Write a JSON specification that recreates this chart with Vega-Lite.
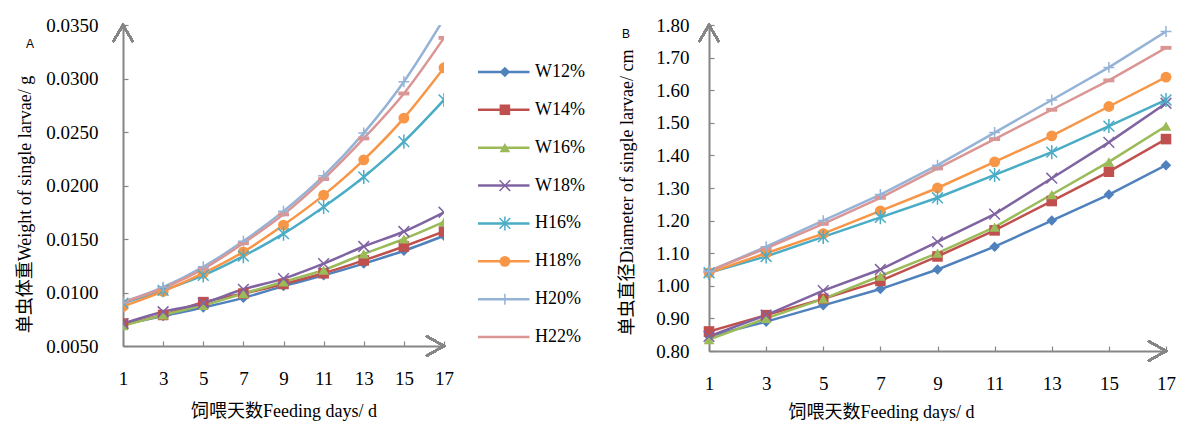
{
  "$schema": "https://vega.github.io/schema/vega-lite/v6.json",
  "padding": {"left": 16, "top": 16, "right": 0, "bottom": 0},
  "autosize": {"type": "pad"},
  "background": "white",
  "spacing": 22,
  "config": {
    "view": {"stroke": null},
    "axis": {
      "grid": false,
      "domainColor": "#868686",
      "domainWidth": 2,
      "tickColor": "#868686",
      "tickWidth": 1.2,
      "tickSize": -5,
      "labelOverlap": false,
      "labelFont": "Liberation Serif",
      "labelFontSize": 19,
      "labelColor": "#000000",
      "titleFont": "Liberation Serif, Noto Sans CJK SC",
      "titleFontSize": 18,
      "titleFontWeight": "normal",
      "titleColor": "#000000"
    }
  },
  "datasets": {
    "weight": [
      {"day": 1, "series": "W12%", "v": 0.0070}, {"day": 3, "series": "W12%", "v": 0.0078}, {"day": 5, "series": "W12%", "v": 0.0086}, {"day": 7, "series": "W12%", "v": 0.0095}, {"day": 9, "series": "W12%", "v": 0.0106}, {"day": 11, "series": "W12%", "v": 0.0116}, {"day": 13, "series": "W12%", "v": 0.0127}, {"day": 15, "series": "W12%", "v": 0.0139}, {"day": 17, "series": "W12%", "v": 0.0153},
      {"day": 1, "series": "W14%", "v": 0.0071}, {"day": 3, "series": "W14%", "v": 0.0079}, {"day": 5, "series": "W14%", "v": 0.0091}, {"day": 7, "series": "W14%", "v": 0.0099}, {"day": 9, "series": "W14%", "v": 0.0108}, {"day": 11, "series": "W14%", "v": 0.0118}, {"day": 13, "series": "W14%", "v": 0.0130}, {"day": 15, "series": "W14%", "v": 0.0143}, {"day": 17, "series": "W14%", "v": 0.0157},
      {"day": 1, "series": "W16%", "v": 0.0069}, {"day": 3, "series": "W16%", "v": 0.0079}, {"day": 5, "series": "W16%", "v": 0.0088}, {"day": 7, "series": "W16%", "v": 0.0099}, {"day": 9, "series": "W16%", "v": 0.0110}, {"day": 11, "series": "W16%", "v": 0.0121}, {"day": 13, "series": "W16%", "v": 0.0136}, {"day": 15, "series": "W16%", "v": 0.0150}, {"day": 17, "series": "W16%", "v": 0.0166},
      {"day": 1, "series": "W18%", "v": 0.0071}, {"day": 3, "series": "W18%", "v": 0.0082}, {"day": 5, "series": "W18%", "v": 0.0090}, {"day": 7, "series": "W18%", "v": 0.0103}, {"day": 9, "series": "W18%", "v": 0.0113}, {"day": 11, "series": "W18%", "v": 0.0127}, {"day": 13, "series": "W18%", "v": 0.0143}, {"day": 15, "series": "W18%", "v": 0.0157}, {"day": 17, "series": "W18%", "v": 0.0175},
      {"day": 1, "series": "H16%", "v": 0.0090}, {"day": 3, "series": "H16%", "v": 0.0102}, {"day": 5, "series": "H16%", "v": 0.0116}, {"day": 7, "series": "H16%", "v": 0.0134}, {"day": 9, "series": "H16%", "v": 0.0155}, {"day": 11, "series": "H16%", "v": 0.0180}, {"day": 13, "series": "H16%", "v": 0.0208}, {"day": 15, "series": "H16%", "v": 0.0241}, {"day": 17, "series": "H16%", "v": 0.0280},
      {"day": 1, "series": "H18%", "v": 0.0087}, {"day": 3, "series": "H18%", "v": 0.0101}, {"day": 5, "series": "H18%", "v": 0.0118}, {"day": 7, "series": "H18%", "v": 0.0138}, {"day": 9, "series": "H18%", "v": 0.0163}, {"day": 11, "series": "H18%", "v": 0.0191}, {"day": 13, "series": "H18%", "v": 0.0224}, {"day": 15, "series": "H18%", "v": 0.0263}, {"day": 17, "series": "H18%", "v": 0.0310},
      {"day": 1, "series": "H20%", "v": 0.0091}, {"day": 3, "series": "H20%", "v": 0.0105}, {"day": 5, "series": "H20%", "v": 0.0124}, {"day": 7, "series": "H20%", "v": 0.0148}, {"day": 9, "series": "H20%", "v": 0.0176}, {"day": 11, "series": "H20%", "v": 0.0209}, {"day": 13, "series": "H20%", "v": 0.0249}, {"day": 15, "series": "H20%", "v": 0.0297}, {"day": 17, "series": "H20%", "v": 0.0356},
      {"day": 1, "series": "H22%", "v": 0.0091}, {"day": 3, "series": "H22%", "v": 0.0104}, {"day": 5, "series": "H22%", "v": 0.0122}, {"day": 7, "series": "H22%", "v": 0.0146}, {"day": 9, "series": "H22%", "v": 0.0173}, {"day": 11, "series": "H22%", "v": 0.0206}, {"day": 13, "series": "H22%", "v": 0.0244}, {"day": 15, "series": "H22%", "v": 0.0286}, {"day": 17, "series": "H22%", "v": 0.0338}
    ],
    "diameter": [
      {"day": 1, "series": "W12%", "v": 0.845}, {"day": 3, "series": "W12%", "v": 0.89}, {"day": 5, "series": "W12%", "v": 0.94}, {"day": 7, "series": "W12%", "v": 0.99}, {"day": 9, "series": "W12%", "v": 1.05}, {"day": 11, "series": "W12%", "v": 1.12}, {"day": 13, "series": "W12%", "v": 1.20}, {"day": 15, "series": "W12%", "v": 1.28}, {"day": 17, "series": "W12%", "v": 1.37},
      {"day": 1, "series": "W14%", "v": 0.86}, {"day": 3, "series": "W14%", "v": 0.91}, {"day": 5, "series": "W14%", "v": 0.96}, {"day": 7, "series": "W14%", "v": 1.015}, {"day": 9, "series": "W14%", "v": 1.09}, {"day": 11, "series": "W14%", "v": 1.17}, {"day": 13, "series": "W14%", "v": 1.26}, {"day": 15, "series": "W14%", "v": 1.35}, {"day": 17, "series": "W14%", "v": 1.45},
      {"day": 1, "series": "W16%", "v": 0.835}, {"day": 3, "series": "W16%", "v": 0.90}, {"day": 5, "series": "W16%", "v": 0.96}, {"day": 7, "series": "W16%", "v": 1.03}, {"day": 9, "series": "W16%", "v": 1.10}, {"day": 11, "series": "W16%", "v": 1.18}, {"day": 13, "series": "W16%", "v": 1.28}, {"day": 15, "series": "W16%", "v": 1.38}, {"day": 17, "series": "W16%", "v": 1.49},
      {"day": 1, "series": "W18%", "v": 0.845}, {"day": 3, "series": "W18%", "v": 0.91}, {"day": 5, "series": "W18%", "v": 0.985}, {"day": 7, "series": "W18%", "v": 1.05}, {"day": 9, "series": "W18%", "v": 1.135}, {"day": 11, "series": "W18%", "v": 1.22}, {"day": 13, "series": "W18%", "v": 1.33}, {"day": 15, "series": "W18%", "v": 1.44}, {"day": 17, "series": "W18%", "v": 1.56},
      {"day": 1, "series": "H16%", "v": 1.04}, {"day": 3, "series": "H16%", "v": 1.09}, {"day": 5, "series": "H16%", "v": 1.15}, {"day": 7, "series": "H16%", "v": 1.21}, {"day": 9, "series": "H16%", "v": 1.27}, {"day": 11, "series": "H16%", "v": 1.34}, {"day": 13, "series": "H16%", "v": 1.41}, {"day": 15, "series": "H16%", "v": 1.49}, {"day": 17, "series": "H16%", "v": 1.57},
      {"day": 1, "series": "H18%", "v": 1.04}, {"day": 3, "series": "H18%", "v": 1.10}, {"day": 5, "series": "H18%", "v": 1.16}, {"day": 7, "series": "H18%", "v": 1.23}, {"day": 9, "series": "H18%", "v": 1.30}, {"day": 11, "series": "H18%", "v": 1.38}, {"day": 13, "series": "H18%", "v": 1.46}, {"day": 15, "series": "H18%", "v": 1.55}, {"day": 17, "series": "H18%", "v": 1.64},
      {"day": 1, "series": "H20%", "v": 1.045}, {"day": 3, "series": "H20%", "v": 1.12}, {"day": 5, "series": "H20%", "v": 1.20}, {"day": 7, "series": "H20%", "v": 1.28}, {"day": 9, "series": "H20%", "v": 1.37}, {"day": 11, "series": "H20%", "v": 1.47}, {"day": 13, "series": "H20%", "v": 1.57}, {"day": 15, "series": "H20%", "v": 1.67}, {"day": 17, "series": "H20%", "v": 1.78},
      {"day": 1, "series": "H22%", "v": 1.045}, {"day": 3, "series": "H22%", "v": 1.115}, {"day": 5, "series": "H22%", "v": 1.19}, {"day": 7, "series": "H22%", "v": 1.27}, {"day": 9, "series": "H22%", "v": 1.36}, {"day": 11, "series": "H22%", "v": 1.45}, {"day": 13, "series": "H22%", "v": 1.54}, {"day": 15, "series": "H22%", "v": 1.63}, {"day": 17, "series": "H22%", "v": 1.73}
    ],
    "legend": [
      {"series": "W12%"}, {"series": "W14%"}, {"series": "W16%"}, {"series": "W18%"},
      {"series": "H16%"}, {"series": "H18%"}, {"series": "H20%"}, {"series": "H22%"}
    ]
  },
  "hconcat": [
    {
      "width": 321,
      "height": 321,
      "data": {"name": "weight"},
      "title": {"text": "A", "anchor": "start", "frame": "group", "font": "Liberation Sans", "fontSize": 12, "fontWeight": "normal", "color": "#000000", "dx": -97, "dy": 39},
      "layer": [
        {
          "mark": {"type": "line", "interpolate": "monotone", "strokeWidth": 2.5, "clip": true},
          "encoding": {
            "x": {"field": "day", "type": "quantitative", "scale": {"domain": [1, 17], "zero": false, "nice": false},
                  "axis": {"values": [1, 3, 5, 7, 9, 11, 13, 15, 17], "tickCount": 20, "title": "饲喂天数Feeding days/ d", "labelPadding": 28, "titlePadding": 14, "labelFlush": false, "labelOverlap": false}},
            "y": {"field": "v", "type": "quantitative", "scale": {"domain": [0.005, 0.035], "zero": false, "nice": false},
                  "axis": {"values": [0.005, 0.01, 0.015, 0.02, 0.025, 0.03, 0.035], "tickCount": 20, "format": ".4f", "title": "单虫体重Weight of single larvae/ g", "labelPadding": 30, "titlePadding": 11, "titleY": 179, "labelOverlap": false}},
            "color": {"field": "series", "type": "nominal", "legend": null,
                      "scale": {"domain": ["W12%", "W14%", "W16%", "W18%", "H16%", "H18%", "H20%", "H22%"],
                                "range": ["#4F81BD", "#C0504D", "#9BBB59", "#8064A2", "#4BACC6", "#F79646", "#95B3D7", "#D99694"]}}
          }
        },
        {
          "transform": [{"filter": {"field": "series", "oneOf": ["W12%", "W14%", "W16%", "H18%", "H22%"]}}],
          "mark": {"type": "point", "filled": true, "opacity": 1, "clip": true},
          "encoding": {
            "x": {"field": "day", "type": "quantitative", "scale": {"domain": [1, 17], "zero": false, "nice": false}},
            "y": {"field": "v", "type": "quantitative", "scale": {"domain": [0.005, 0.035], "zero": false, "nice": false}},
            "color": {"field": "series", "type": "nominal", "legend": null},
            "shape": {"field": "series", "type": "nominal", "legend": null,
                      "scale": {"domain": ["W12%", "W14%", "W16%", "W18%", "H16%", "H18%", "H20%", "H22%"],
                                "range": ["diamond", "square", "triangle-up", "M-1,-1L1,1M-1,1L1,-1", "M-1,-1L1,1M-1,1L1,-1M0,-1.3L0,1.3", "circle", "M-1,0L1,0M0,-1L0,1", "M-1,-0.35L1,-0.35L1,0.35L-1,0.35Z"]}},
            "size": {"field": "series", "type": "nominal", "legend": null,
                     "scale": {"domain": ["W12%", "W14%", "W16%", "W18%", "H16%", "H18%", "H20%", "H22%"],
                               "range": [110, 121, 144, 144, 144, 169, 144, 64]}}
          }
        },
        {
          "transform": [{"filter": {"field": "series", "oneOf": ["W18%", "H16%", "H20%"]}}, {"filter": "datum.v <= 0.035"}],
          "mark": {"type": "point", "filled": false, "strokeWidth": 1.5, "opacity": 1, "clip": true},
          "encoding": {
            "x": {"field": "day", "type": "quantitative", "scale": {"domain": [1, 17], "zero": false, "nice": false}},
            "y": {"field": "v", "type": "quantitative", "scale": {"domain": [0.005, 0.035], "zero": false, "nice": false}},
            "color": {"field": "series", "type": "nominal", "legend": null},
            "shape": {"field": "series", "type": "nominal", "legend": null},
            "size": {"field": "series", "type": "nominal", "legend": null}
          }
        },
        {
          "mark": {"type": "point", "shape": "M-0.59,1L0,0L0.59,1", "size": 1156, "filled": false, "stroke": "#868686", "strokeWidth": 2, "opacity": 1},
          "encoding": {"x": {"datum": 1, "type": "quantitative", "scale": {"domain": [1, 17], "zero": false, "nice": false}}, "y": {"datum": 0.035, "type": "quantitative", "scale": {"domain": [0.005, 0.035], "zero": false, "nice": false}}}
        },
        {
          "mark": {"type": "point", "shape": "M-1,-0.56L0,0L-1,0.56", "size": 1296, "filled": false, "stroke": "#868686", "strokeWidth": 2, "opacity": 1},
          "encoding": {"x": {"datum": 17, "type": "quantitative", "scale": {"domain": [1, 17], "zero": false, "nice": false}}, "y": {"datum": 0.005, "type": "quantitative", "scale": {"domain": [0.005, 0.035], "zero": false, "nice": false}}}
        }
      ]
    },
    {
      "spacing": 28,
      "hconcat": [
        {
          "width": 112,
          "height": 321,
          "data": {"name": "legend"},
          "layer": [
            {
              "mark": {"type": "rule", "strokeWidth": 2.5},
              "encoding": {
                "x": {"datum": 0, "type": "quantitative", "scale": {"domain": [0, 1], "zero": false, "nice": false}, "axis": null},
                "x2": {"datum": 0.46},
                "y": {"field": "series", "type": "ordinal", "axis": null, "sort": null,
                      "scale": {"domain": ["W12%", "W14%", "W16%", "W18%", "H16%", "H18%", "H20%", "H22%"], "range": [9, 350], "paddingOuter": 0.5}},
                "color": {"field": "series", "type": "nominal", "legend": null,
                          "scale": {"domain": ["W12%", "W14%", "W16%", "W18%", "H16%", "H18%", "H20%", "H22%"],
                                    "range": ["#4F81BD", "#C0504D", "#9BBB59", "#8064A2", "#4BACC6", "#F79646", "#95B3D7", "#D99694"]}}
              }
            },
            {
              "transform": [{"filter": {"field": "series", "oneOf": ["W12%", "W14%", "W16%", "H18%"]}}],
              "mark": {"type": "point", "filled": true, "opacity": 1},
              "encoding": {
                "x": {"datum": 0.24, "type": "quantitative"},
                "y": {"field": "series", "type": "ordinal", "sort": null},
                "color": {"field": "series", "type": "nominal", "legend": null},
                "shape": {"field": "series", "type": "nominal", "legend": null,
                          "scale": {"domain": ["W12%", "W14%", "W16%", "W18%", "H16%", "H18%", "H20%", "H22%"],
                                    "range": ["diamond", "square", "triangle-up", "M-1,-1L1,1M-1,1L1,-1", "M-1,-1L1,1M-1,1L1,-1M0,-1.3L0,1.3", "circle", "M-1,0L1,0M0,-1L0,1", "M-1,-0.35L1,-0.35L1,0.35L-1,0.35Z"]}},
                "size": {"field": "series", "type": "nominal", "legend": null,
                         "scale": {"domain": ["W12%", "W14%", "W16%", "W18%", "H16%", "H18%", "H20%", "H22%"],
                                   "range": [110, 121, 144, 144, 144, 169, 144, 64]}}
              }
            },
            {
              "transform": [{"filter": {"field": "series", "oneOf": ["W18%", "H16%", "H20%"]}}],
              "mark": {"type": "point", "filled": false, "strokeWidth": 1.5, "opacity": 1},
              "encoding": {
                "x": {"datum": 0.24, "type": "quantitative"},
                "y": {"field": "series", "type": "ordinal", "sort": null},
                "color": {"field": "series", "type": "nominal", "legend": null},
                "shape": {"field": "series", "type": "nominal", "legend": null},
                "size": {"field": "series", "type": "nominal", "legend": null}
              }
            },
            {
              "mark": {"type": "text", "align": "left", "baseline": "middle", "font": "Liberation Serif", "fontSize": 18, "color": "#000000"},
              "encoding": {
                "x": {"datum": 0.51, "type": "quantitative"},
                "y": {"field": "series", "type": "ordinal", "sort": null},
                "text": {"field": "series"}
              }
            }
          ]
        },
        {
          "width": 457,
          "height": 326,
          "data": {"name": "diameter"},
          "title": {"text": "B", "anchor": "start", "frame": "group", "font": "Liberation Sans", "fontSize": 12, "fontWeight": "normal", "color": "#000000", "dx": -87, "dy": 29},
          "layer": [
            {
              "mark": {"type": "line", "strokeWidth": 2.5, "clip": true},
              "encoding": {
                "x": {"field": "day", "type": "quantitative", "scale": {"domain": [1, 17], "zero": false, "nice": false},
                      "axis": {"values": [1, 3, 5, 7, 9, 11, 13, 15, 17], "tickCount": 20, "title": "饲喂天数Feeding days/ d", "labelPadding": 28, "titlePadding": 10, "labelFlush": false, "titleX": 172, "labelOverlap": false}},
                "y": {"field": "v", "type": "quantitative", "scale": {"domain": [0.8, 1.8], "zero": false, "nice": false},
                      "axis": {"values": [0.8, 0.9, 1.0, 1.1, 1.2, 1.3, 1.4, 1.5, 1.6, 1.7, 1.8], "tickCount": 20, "format": ".2f", "title": "单虫直径Diameter of single larvae/ cm", "labelPadding": 25, "titlePadding": 19, "titleY": 167, "labelOverlap": false, "labelBound": false}},
                "color": {"field": "series", "type": "nominal", "legend": null,
                          "scale": {"domain": ["W12%", "W14%", "W16%", "W18%", "H16%", "H18%", "H20%", "H22%"],
                                    "range": ["#4F81BD", "#C0504D", "#9BBB59", "#8064A2", "#4BACC6", "#F79646", "#95B3D7", "#D99694"]}}
              }
            },
            {
              "transform": [{"filter": {"field": "series", "oneOf": ["W12%", "W14%", "W16%", "H18%", "H22%"]}}],
              "mark": {"type": "point", "filled": true, "opacity": 1},
              "encoding": {
                "x": {"field": "day", "type": "quantitative", "scale": {"domain": [1, 17], "zero": false, "nice": false}},
                "y": {"field": "v", "type": "quantitative", "scale": {"domain": [0.8, 1.8], "zero": false, "nice": false}},
                "color": {"field": "series", "type": "nominal", "legend": null},
                "shape": {"field": "series", "type": "nominal", "legend": null,
                          "scale": {"domain": ["W12%", "W14%", "W16%", "W18%", "H16%", "H18%", "H20%", "H22%"],
                                    "range": ["diamond", "square", "triangle-up", "M-1,-1L1,1M-1,1L1,-1", "M-1,-1L1,1M-1,1L1,-1M0,-1.3L0,1.3", "circle", "M-1,0L1,0M0,-1L0,1", "M-1,-0.35L1,-0.35L1,0.35L-1,0.35Z"]}},
                "size": {"field": "series", "type": "nominal", "legend": null,
                         "scale": {"domain": ["W12%", "W14%", "W16%", "W18%", "H16%", "H18%", "H20%", "H22%"],
                                   "range": [121, 144, 169, 144, 144, 169, 144, 64]}}
              }
            },
            {
              "transform": [{"filter": {"field": "series", "oneOf": ["W18%", "H16%", "H20%"]}}],
              "mark": {"type": "point", "filled": false, "strokeWidth": 1.5, "opacity": 1},
              "encoding": {
                "x": {"field": "day", "type": "quantitative", "scale": {"domain": [1, 17], "zero": false, "nice": false}},
                "y": {"field": "v", "type": "quantitative", "scale": {"domain": [0.8, 1.8], "zero": false, "nice": false}},
                "color": {"field": "series", "type": "nominal", "legend": null},
                "shape": {"field": "series", "type": "nominal", "legend": null},
                "size": {"field": "series", "type": "nominal", "legend": null}
              }
            },
            {
              "mark": {"type": "point", "shape": "M-0.59,1L0,0L0.59,1", "size": 1156, "filled": false, "stroke": "#868686", "strokeWidth": 2, "opacity": 1},
              "encoding": {"x": {"datum": 1, "type": "quantitative", "scale": {"domain": [1, 17], "zero": false, "nice": false}}, "y": {"datum": 1.8, "type": "quantitative", "scale": {"domain": [0.8, 1.8], "zero": false, "nice": false}}}
            },
            {
              "mark": {"type": "point", "shape": "M-1,-0.56L0,0L-1,0.56", "size": 1296, "filled": false, "stroke": "#868686", "strokeWidth": 2, "opacity": 1},
              "encoding": {"x": {"datum": 17, "type": "quantitative", "scale": {"domain": [1, 17], "zero": false, "nice": false}}, "y": {"datum": 0.8, "type": "quantitative", "scale": {"domain": [0.8, 1.8], "zero": false, "nice": false}}}
            }
          ]
        }
      ]
    }
  ]
}
